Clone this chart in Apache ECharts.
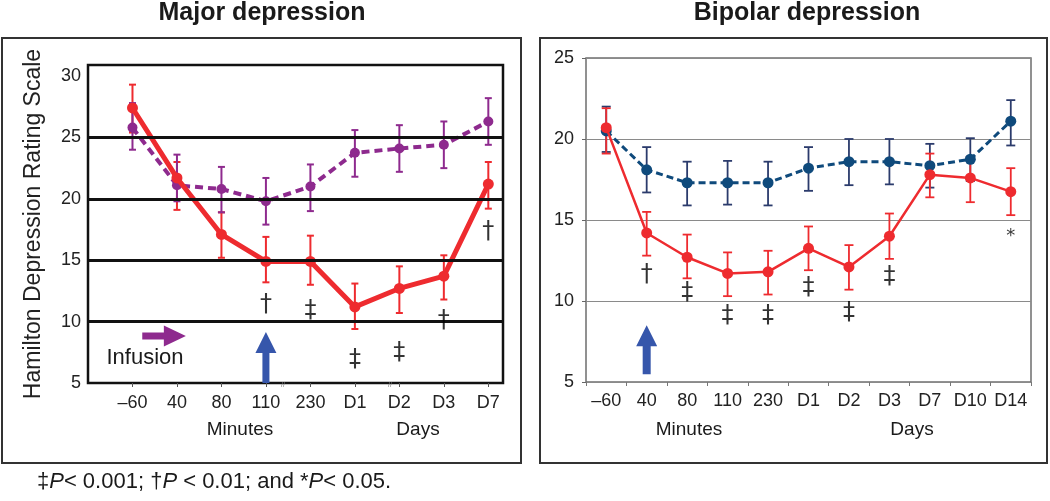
<!DOCTYPE html>
<html>
<head>
<meta charset="utf-8">
<script src="https://cdn.jsdelivr.net/npm/echarts@6/dist/echarts.min.js"></script>
<style>
html, body { margin: 0; padding: 0; background: #fff; }
#chart { width: 1050px; height: 501px; }
</style>
</head>
<body>
<div id="chart"></div>
<script>
// major depression panel
var majorCats = ['–60', '40', '80', '110', '230', 'D1', 'D2', 'D3', 'D7'];
var majorKetamine = [27.4, 21.7, 17.1, 14.9, 14.9, 11.2, 12.7, 13.7, 21.2];
var majorKetLow = [25.4, 19.1, 15.2, 13.2, 13.0, 9.4, 10.7, 11.8, 19.2];
var majorKetHigh = [29.3, 23.0, 18.9, 16.9, 17.0, 13.1, 14.5, 15.4, 23.0];
var majorPlacebo = [25.8, 21.1, 20.8, 19.8, 21.0, 23.75, 24.1, 24.4, 26.3];
var majorPlaLow = [24.0, 19.8, 18.9, 17.9, 19.0, 21.8, 22.2, 22.5, 24.4];
var majorPlaHigh = [27.8, 23.6, 22.6, 21.7, 22.8, 25.6, 26.0, 26.3, 28.2];
var majorYTicks = [5, 10, 15, 20, 25, 30];
var majorRefLines = [10, 15, 20, 25];
// [category index, value, symbol]
var majorSig = [[3, 11.35, '†'], [4, 10.9, '‡'], [5, 6.9, '‡'], [6, 7.5, '‡'], [7, 10.1, '†'], [8, 17.3, '†']];

// bipolar depression panel
var bipolarCats = ['–60', '40', '80', '110', '230', 'D1', 'D2', 'D3', 'D7', 'D10', 'D14'];
var bipolarKetamine = [20.7, 14.2, 12.7, 11.7, 11.8, 13.25, 12.1, 14.0, 17.8, 17.6, 16.75];
var bipolarKetLow = [19.1, 12.8, 11.4, 10.3, 10.4, 11.9, 10.7, 12.6, 16.4, 16.1, 15.3];
var bipolarKetHigh = [21.9, 15.5, 14.1, 13.0, 13.1, 14.6, 13.45, 15.4, 19.1, 18.9, 18.2];
var bipolarPlacebo = [20.5, 18.1, 17.3, 17.3, 17.3, 18.2, 18.6, 18.6, 18.35, 18.75, 21.1];
var bipolarPlaLow = [19.2, 16.7, 15.9, 15.95, 15.9, 16.8, 17.15, 17.2, 17.0, 17.4, 19.6];
var bipolarPlaHigh = [22.0, 19.5, 18.6, 18.65, 18.6, 19.5, 20.0, 20.0, 19.7, 20.05, 22.4];
var bipolarSig = [[1, 11.6, '†'], [2, 10.5, '‡'], [3, 9.1, '‡'], [4, 9.1, '‡'], [5, 10.8, '‡'], [6, 9.25, '‡'], [7, 11.5, '‡'], [10, 14.0, '*']];

var red = '#ee2b2f';
var purple = '#8e2a8e';
var navy = '#0f4a7c';
var arrowBlue = '#3656ab';
var font = 'Liberation Sans, Arial, sans-serif';

function pairs(vals) {
    return vals.map(function (v, i) { return [i, v]; });
}

function bars(low, high) {
    return low.map(function (v, i) { return [i, v, high[i]]; });
}

function errorSeries(idx, data, color, width, capHalf, z) {
    return {
        type: 'custom',
        xAxisIndex: idx,
        yAxisIndex: idx,
        silent: true,
        z: z,
        data: data,
        encode: {x: 0, y: [1, 2]},
        renderItem: function (params, api) {
            var lo = api.coord([api.value(0), api.value(1)]);
            var hi = api.coord([api.value(0), api.value(2)]);
            var st = {stroke: color, lineWidth: width};
            return {
                type: 'group',
                children: [
                    {type: 'line', shape: {x1: hi[0], y1: hi[1], x2: lo[0], y2: lo[1]}, style: st},
                    {type: 'line', shape: {x1: hi[0] - capHalf, y1: hi[1], x2: hi[0] + capHalf, y2: hi[1]}, style: st},
                    {type: 'line', shape: {x1: lo[0] - capHalf, y1: lo[1], x2: lo[0] + capHalf, y2: lo[1]}, style: st}
                ]
            };
        }
    };
}

function sigSeries(idx, data) {
    return {
        type: 'scatter',
        xAxisIndex: idx,
        yAxisIndex: idx,
        silent: true,
        z: 10,
        symbolSize: 1,
        itemStyle: {color: 'rgba(0,0,0,0)'},
        label: {
            show: true,
            position: 'inside',
            formatter: function (p) {
                return p.value[2] === '*' ? '{s|*}' : p.value[2];
            },
            fontFamily: 'DejaVu Sans, sans-serif',
            fontSize: 24,
            color: '#000',
            rich: {s: {fontSize: 18, color: '#000', fontFamily: 'DejaVu Sans, sans-serif'}}
        },
        data: data
    };
}

var chart = echarts.init(document.getElementById('chart'));

var option = {
    animation: false,
    textStyle: {fontFamily: font},
    grid: [
        {left: 88, top: 65, width: 415, height: 318, show: true, borderColor: '#111', borderWidth: 2.5, backgroundColor: '#fff'},
        {left: 586, top: 58, width: 445, height: 324, show: true, borderColor: '#6e6e6e', borderWidth: 1.5, backgroundColor: '#fff'}
    ],
    xAxis: [
        {
            gridIndex: 0,
            type: 'value',
            min: -1,
            max: 8.33,
            interval: 1,
            axisLine: {show: false},
            splitLine: {show: false},
            axisTick: {show: true, length: 4, customValues: [0, 1, 2, 3, 4, 5, 6, 7, 8], lineStyle: {color: '#555'}},
            axisLabel: {
                customValues: [0, 1, 2, 3, 4, 5, 6, 7, 8],
                margin: 11,
                fontSize: 18,
                color: '#222',
                formatter: function (v) {
                    var k = Math.round(v);
                    return (Math.abs(v - k) < 1e-6 && majorCats[k] !== undefined) ? majorCats[k] : '';
                }
            }
        },
        {
            gridIndex: 1,
            type: 'category',
            data: bipolarCats,
            boundaryGap: true,
            axisLine: {show: false},
            splitLine: {show: false},
            axisTick: {show: true, length: 4, lineStyle: {color: '#777'}},
            axisLabel: {margin: 10, fontSize: 18, color: '#222', interval: 0}
        }
    ],
    yAxis: [
        {
            gridIndex: 0,
            type: 'value',
            min: 5,
            max: 30.9,
            interval: 5,
            name: 'Hamilton Depression Rating Scale',
            nameLocation: 'middle',
            nameGap: 43,
            nameTextStyle: {fontSize: 23, color: '#222', fontFamily: font},
            axisLine: {show: false},
            axisTick: {show: false},
            splitLine: {show: false},
            axisLabel: {
                customValues: majorYTicks,
                margin: 7,
                fontSize: 18,
                color: '#222',
                formatter: function (v) { return v % 5 === 0 ? String(v) : ''; }
            }
        },
        {
            gridIndex: 1,
            type: 'value',
            min: 5,
            max: 25,
            interval: 5,
            axisLine: {show: false},
            axisTick: {show: true, length: 4, lineStyle: {color: '#666'}},
            splitLine: {show: true, lineStyle: {color: '#8a8a8a', width: 1.2}},
            axisLabel: {margin: 12, fontSize: 18, color: '#222'}
        }
    ],
    series: [
        errorSeries(0, bars(majorKetLow, majorKetHigh), red, 2, 3.5, 2),
        errorSeries(0, bars(majorPlaLow, majorPlaHigh), purple, 2, 3.5, 2),
        {
            type: 'line',
            xAxisIndex: 0,
            yAxisIndex: 0,
            z: 3,
            data: pairs(majorPlacebo),
            symbol: 'circle',
            symbolSize: 10,
            itemStyle: {color: purple},
            lineStyle: {color: purple, width: 4, type: [8, 5]},
            markLine: {
                silent: true,
                symbol: ['none', 'none'],
                label: {show: false},
                lineStyle: {color: '#111', width: 3, type: 'solid'},
                data: majorRefLines.map(function (v) { return {yAxis: v}; })
            }
        },
        {
            type: 'line',
            xAxisIndex: 0,
            yAxisIndex: 0,
            z: 4,
            data: pairs(majorKetamine),
            symbol: 'circle',
            symbolSize: 11,
            itemStyle: {color: red},
            lineStyle: {color: red, width: 5}
        },
        sigSeries(0, majorSig),

        errorSeries(1, bars(bipolarPlaLow, bipolarPlaHigh), '#2b3b6c', 1.8, 4.5, 2),
        errorSeries(1, bars(bipolarKetLow, bipolarKetHigh), red, 1.8, 4.5, 2),
        {
            type: 'line',
            xAxisIndex: 1,
            yAxisIndex: 1,
            z: 3,
            data: bipolarPlacebo,
            symbol: 'circle',
            symbolSize: 11,
            itemStyle: {color: navy},
            lineStyle: {color: navy, width: 3, type: [7, 4]}
        },
        {
            type: 'line',
            xAxisIndex: 1,
            yAxisIndex: 1,
            z: 4,
            data: bipolarKetamine,
            symbol: 'circle',
            symbolSize: 11,
            itemStyle: {color: red},
            lineStyle: {color: red, width: 2.5}
        },
        sigSeries(1, bipolarSig)
    ]
};

chart.setOption(option);

// arrows placed in data space
function upArrow(idx, x, yBottom, yTop, headW, headH, shaftW, color) {
    var b = chart.convertToPixel({gridIndex: idx}, [x, yBottom]);
    var t = chart.convertToPixel({gridIndex: idx}, [x, yTop]);
    var cx = t[0];
    var hb = t[1] + headH;
    return {
        type: 'polygon',
        z: 20,
        shape: {points: [
            [cx - shaftW / 2, b[1]], [cx - shaftW / 2, hb], [cx - headW / 2, hb], [cx, t[1]],
            [cx + headW / 2, hb], [cx + shaftW / 2, hb], [cx + shaftW / 2, b[1]]
        ]},
        style: {fill: color}
    };
}

function rightArrow(idx, x0, x1, y, headW, headH, shaftW, color) {
    var a = chart.convertToPixel({gridIndex: idx}, [x0, y]);
    var c = chart.convertToPixel({gridIndex: idx}, [x1, y]);
    var hb = c[0] - headW;
    var cy = a[1];
    return {
        type: 'polygon',
        z: 20,
        shape: {points: [
            [a[0], cy - shaftW / 2], [hb, cy - shaftW / 2], [hb, cy - headH / 2], [c[0], cy],
            [hb, cy + headH / 2], [hb, cy + shaftW / 2], [a[0], cy + shaftW / 2]
        ]},
        style: {fill: color}
    };
}

function txt(x, y, s, size, weight) {
    return {
        type: 'text',
        x: x,
        y: y,
        z: 20,
        style: {text: s, fontSize: size, fontWeight: weight || 'normal', fontFamily: font, fill: '#1a1a1a', align: 'center', verticalAlign: 'middle'}
    };
}

chart.setOption({
    graphic: [
        {type: 'rect', z: -1, shape: {x: 2, y: 38, width: 519, height: 425}, style: {fill: 'none', stroke: '#333', lineWidth: 2}},
        {type: 'rect', z: -1, shape: {x: 540, y: 38, width: 507, height: 425}, style: {fill: 'none', stroke: '#333', lineWidth: 2}},
        txt(262, 13, 'Major depression', 25, 'bold'),
        txt(807, 13, 'Bipolar depression', 25, 'bold'),
        txt(240, 430, 'Minutes', 19),
        txt(418, 430, 'Days', 19),
        txt(689, 430, 'Minutes', 19),
        txt(912, 430, 'Days', 19),
        txt(145, 358, 'Infusion', 22),
        {type: 'text', x: 283, y: 385, z: 20, style: {text: '//', fontSize: 7, fill: '#777', align: 'center', verticalAlign: 'middle'}},
        {type: 'text', x: 390, y: 385, z: 20, style: {text: '//', fontSize: 7, fill: '#777', align: 'center', verticalAlign: 'middle'}},
        upArrow(0, 3, 5, 9.15, 21, 21, 7, arrowBlue),
        rightArrow(0, 0.22, 1.2, 8.83, 22, 21, 7, purple),
        upArrow(1, 1, 5.48, 8.5, 21, 21, 8, arrowBlue),
        {
            type: 'text',
            x: 37,
            y: 482,
            z: 20,
            style: {
                text: '{n|‡}{i|P}{n|< 0.001; †}{i|P}{n| < 0.01; and *}{i|P}{n|< 0.05.}',
                verticalAlign: 'middle',
                rich: {
                    n: {fontSize: 22, fontFamily: font, fill: '#1a1a1a'},
                    i: {fontSize: 22, fontFamily: font, fontStyle: 'italic', fill: '#1a1a1a'}
                }
            }
        }
    ]
});
</script>
</body>
</html>
